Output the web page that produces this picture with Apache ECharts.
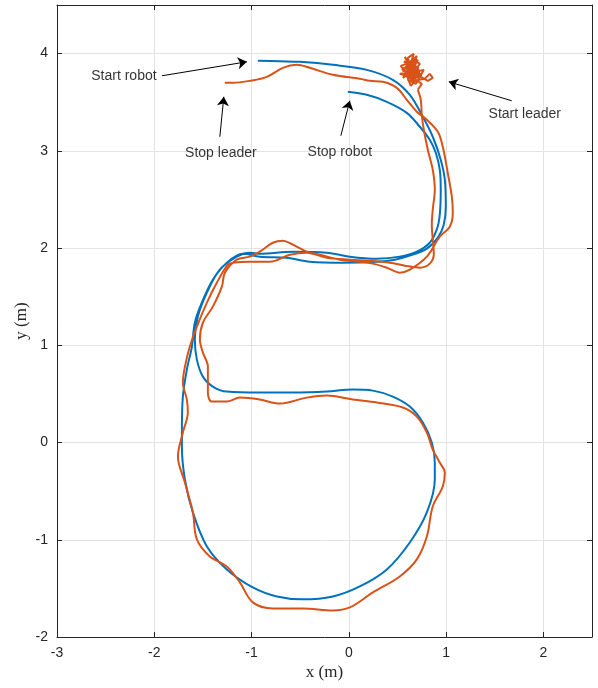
<!DOCTYPE html>
<html><head><meta charset="utf-8">
<script src="https://cdn.jsdelivr.net/npm/echarts@6/dist/echarts.min.js"></script>
<style>html,body{margin:0;padding:0;background:#fff}#c{width:598px;height:688px}</style>
</head><body><div id="c"></div>
<script>
// ---- data (metres) ----
const xTicks = [-3, -2, -1, 0, 1, 2];
const yTicks = [-2, -1, 0, 1, 2, 3, 4];

const robotPath = [
  [-0.935,3.926],[-0.709,3.921],[-0.504,3.916],[-0.164,3.885],[0.185,3.833],[0.452,3.731],[0.627,3.576],
  [0.761,3.350],[0.863,3.145],[0.945,2.908],[0.987,2.703],[0.997,2.425],[0.976,2.240],[0.915,2.107],
  [0.802,1.994],[0.627,1.922],[0.473,1.881],
  [0.288,1.860],[-0.062,1.850],[-0.401,1.860],[-0.637,1.901],[-0.915,1.912],[-1.089,1.942],
  [-1.254,1.850],[-1.398,1.675],[-1.511,1.439],[-1.583,1.233],[-1.613,0.987],[-1.665,0.750],[-1.706,0.473],[-1.716,0.134],
  [-1.716,-0.041],[-1.685,-0.380],[-1.603,-0.719],[-1.459,-1.069],[-1.254,-1.305],[-0.987,-1.490],[-0.740,-1.583],
  [-0.473,-1.613],[-0.164,-1.583],[0.113,-1.480],[0.391,-1.305],[0.627,-1.028],[0.802,-0.719],[0.884,-0.380],
  [0.884,-0.206],[0.853,0.000],[0.761,0.206],[0.627,0.370],[0.452,0.473],[0.247,0.534],[0.041,0.545],
  [-0.226,0.524],[-0.576,0.514],[-0.915,0.514],[-1.254,0.524],[-1.398,0.576],[-1.500,0.678],[-1.562,0.853],
  [-1.583,1.059],[-1.552,1.295],[-1.459,1.542],[-1.326,1.778],[-1.151,1.912],
  [-1.017,1.953],[-0.915,1.942],[-0.576,1.963],[-0.226,1.953],[0.010,1.912],[0.288,1.891],[0.524,1.912],
  [0.699,1.963],[0.832,2.055],[0.904,2.189],
  [0.935,2.343],[0.945,2.600],[0.935,2.806],[0.894,2.980],[0.832,3.114],[0.730,3.248],[0.596,3.391],
  [0.391,3.504],[0.185,3.576],[-0.010,3.607]
];

const leaderScribble = [
  [0.647,3.833],[0.606,3.957],[0.668,3.998],[0.637,3.905],[0.565,3.916],[0.689,3.874],[0.545,3.833],
  [0.709,3.936],[0.627,3.772],[0.586,3.874],[0.730,3.813],[0.524,3.792],[0.668,3.751],[0.617,3.895],
  [0.699,3.977],[0.658,3.854],[0.555,3.751],[0.719,3.864],[0.596,3.813],[0.678,3.926],[0.534,3.874],
  [0.647,3.731],[0.750,3.782],[0.627,3.854],[0.576,3.967],[0.709,3.751],[0.637,3.803],[0.771,3.833],
  [0.689,3.689],[0.606,3.731],[0.730,3.895],[0.658,3.946],[0.555,3.823],[0.699,3.792],[0.617,3.710],
  [0.781,3.741],[0.832,3.792],[0.863,3.751],[0.812,3.720],[0.740,3.761],[0.668,3.813],[0.586,3.782],
  [0.647,3.916],[0.719,3.833],[0.565,3.854],[0.637,3.669],[0.689,3.731],[0.750,3.689],[0.709,3.628]
];

const leaderPath = [
  [0.709,3.628],[0.740,3.525],[0.750,3.371],[0.771,3.217],[0.812,3.011],[0.863,2.806],[0.884,2.600],
  [0.863,2.395],[0.853,2.240],[0.863,2.086],[0.874,1.942],[0.832,1.840],[0.730,1.798],[0.576,1.819],[0.421,1.850],
  [0.216,1.870],[0.010,1.881],[-0.226,1.901],[-0.432,1.953],[-0.606,1.932],[-0.812,1.860],[-1.017,1.860],[-1.192,1.850],
  [-1.244,1.829],[-1.357,1.644],[-1.459,1.439],[-1.562,1.192],[-1.634,0.987],[-1.685,0.781],[-1.706,0.617],
  [-1.665,0.442],[-1.655,0.308],
  [-1.706,0.103],[-1.757,-0.144],[-1.685,-0.411],[-1.603,-0.719],[-1.562,-0.997],[-1.429,-1.172],[-1.254,-1.274],
  [-1.120,-1.439],[-0.987,-1.644],[-0.781,-1.706],[-0.473,-1.706],[-0.164,-1.727],[0.010,-1.696],[0.247,-1.542],
  [0.524,-1.377],[0.699,-1.202],[0.802,-0.966],[0.863,-0.658],[0.966,-0.452],[0.987,-0.308],[0.935,-0.206],
  [0.863,-0.072],[0.802,0.103],[0.699,0.267],[0.555,0.360],[0.288,0.411],[0.041,0.442],[-0.226,0.483],
  [-0.432,0.462],[-0.709,0.401],[-0.915,0.442],[-1.120,0.462],[-1.254,0.421],[-1.408,0.421],[-1.449,0.514],[-1.449,0.647],
  [-1.449,0.781],[-1.500,0.925],[-1.531,1.059],[-1.500,1.233],[-1.398,1.398],[-1.305,1.603],[-1.274,1.747],[-1.151,1.881],
  [-1.017,1.912],[-0.915,1.963],[-0.781,2.055],[-0.678,2.076],[-0.576,2.035],[-0.432,1.963],[-0.298,1.932],
  [-0.092,1.881],[0.113,1.860],[0.247,1.840],[0.391,1.798],[0.524,1.747],[0.627,1.778],[0.802,1.912],[0.935,2.117],
  [1.038,2.220],[1.069,2.364],[1.059,2.528],[1.017,2.775],[0.966,3.042],[0.915,3.196],[0.802,3.320],[0.699,3.402],
  [0.596,3.525],[0.493,3.648],[0.349,3.710],
  [0.216,3.720],[0.113,3.741],[-0.164,3.782],[-0.401,3.854],[-0.534,3.885],[-0.678,3.854],[-0.843,3.761],
  [-1.017,3.720],[-1.192,3.700],[-1.274,3.700]
];

const annoLabels = [
  [-2.312, 3.772, 'Start robot'],
  [-1.315, 2.980, 'Stop leader'],
  [-0.092, 2.991, 'Stop robot'],
  [ 1.809, 3.381, 'Start leader']
];
const annoArrows = [
  [[-1.922, 3.772], [-1.048, 3.916]],
  [[-1.326, 3.145], [-1.285, 3.556]],
  [[-0.082, 3.155], [ 0.010, 3.515]],
  [[ 1.675, 3.515], [ 1.028, 3.710]]
];

// ---- chart ----
const AX = '#262626';
const chart = echarts.init(document.getElementById('c'), null, {renderer:'canvas'});
const sans = 'Liberation Sans, Arial, Helvetica, sans-serif';
const serif = 'Liberation Serif, DejaVu Serif, serif';
const baseX = {
  type:'value', min:-3, max:2.5, interval:1,
  axisLine:{show:true, onZero:false, lineStyle:{color:AX, width:1}},
  axisTick:{show:true, inside:true, length:5, lineStyle:{color:AX}},
  splitLine:{show:false}
};
const baseY = {
  type:'value', min:-2, max:4.5, interval:1,
  axisLine:{show:true, onZero:false, lineStyle:{color:AX, width:1}},
  axisTick:{show:true, inside:true, length:5, lineStyle:{color:AX}},
  splitLine:{show:false}
};
chart.setOption({
  animation:false,
  backgroundColor:'#fff',
  grid:{left:57, right:6, top:5, bottom:51, containLabel:false},
  xAxis:[
    Object.assign({}, baseX, {
      position:'bottom',
      splitLine:{show:true, lineStyle:{color:'#e3e3e3', width:1}},
      axisLabel:{show:true, color:AX, fontSize:14, fontFamily:sans, margin:9, showMaxLabel:false},
      name:'x (m)', nameLocation:'middle', nameGap:27, nameMoveOverlap:false,
      nameTextStyle:{fontFamily:serif, fontSize:17, color:AX}
    }),
    Object.assign({}, baseX, {position:'top', axisLabel:{show:false}})
  ],
  yAxis:[
    Object.assign({}, baseY, {
      position:'left',
      splitLine:{show:true, lineStyle:{color:'#e3e3e3', width:1}},
      axisLabel:{show:true, color:AX, fontSize:14, fontFamily:sans, margin:9, showMaxLabel:false},
      name:'y (m)', nameLocation:'middle', nameGap:27, nameMoveOverlap:false,
      nameTextStyle:{fontFamily:serif, fontSize:17, color:AX}
    }),
    Object.assign({}, baseY, {position:'right', axisLabel:{show:false}})
  ],
  series:[
    {
      name:'robot', type:'line', data:robotPath, showSymbol:false, smooth:0.35,
      lineStyle:{color:'#0072BD', width:2}, z:2,
      markLine:{
        silent:true, symbol:['none','arrow'], symbolSize:[9,9],
        label:{show:false},
        lineStyle:{color:'#000', width:1, type:'solid'},
        data: annoArrows.map(a => [{coord:a[0]}, {coord:a[1]}])
      }
    },
    {
      name:'leaderScribble', type:'line', data:leaderScribble, showSymbol:false, smooth:false,
      lineStyle:{color:'#D95319', width:2}, z:3
    },
    {
      name:'leader', type:'line', data:leaderPath, showSymbol:false, smooth:0.35,
      lineStyle:{color:'#D95319', width:2}, z:3
    },
    {
      name:'labels', type:'scatter', data:annoLabels, symbolSize:0, silent:true,
      label:{show:true, position:'inside', formatter:p => p.data[2], color:'#000', fontSize:14, fontFamily:sans}
    }
  ]
});
</script></body></html>
